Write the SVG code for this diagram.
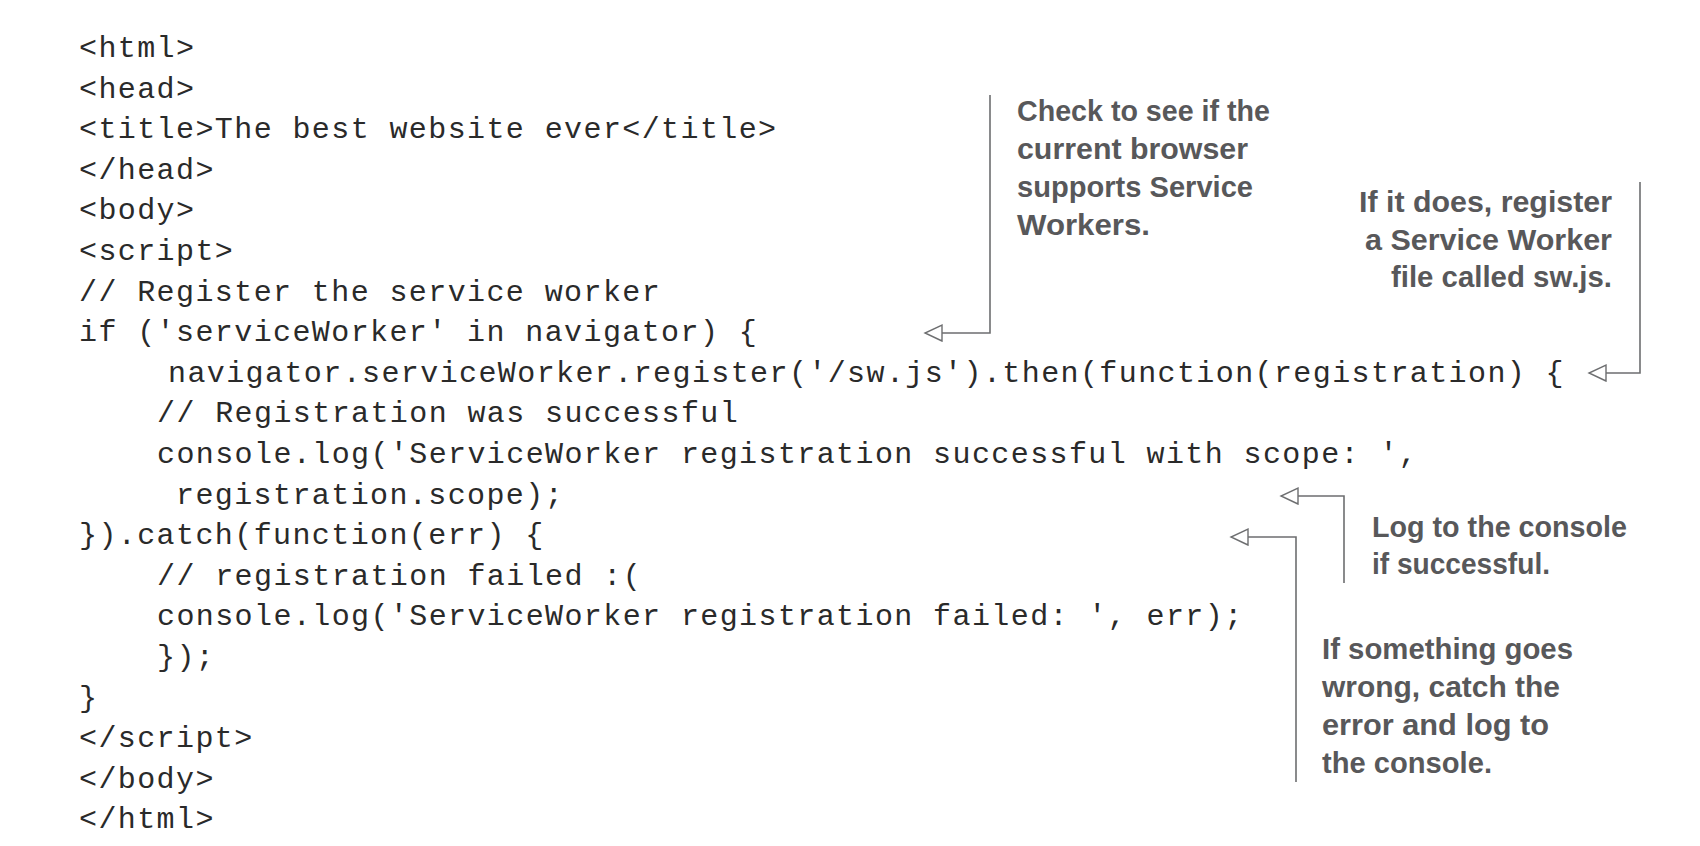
<svg xmlns="http://www.w3.org/2000/svg" width="1700" height="846" viewBox="0 0 1700 846">
<style>
.code{font-family:"Liberation Mono","DejaVu Sans Mono",monospace;font-size:30px;letter-spacing:1.4px;fill:#2a2a2a;}
.note{font-family:"Liberation Sans Narrow","Liberation Sans",Arial,sans-serif;font-weight:bold;font-size:29px;fill:#58585a;}
.conn{fill:none;stroke:#6d6e70;stroke-width:1.6;}
</style>
<defs>
<marker id="arr" markerUnits="userSpaceOnUse" markerWidth="20" markerHeight="20" viewBox="-1 -1 20 18" refX="17" refY="8" orient="auto">
<path d="M0,0 L17,8 L0,16 Z" fill="#ffffff" stroke="#6d6e70" stroke-width="1.4"/>
</marker>
</defs>
<rect x="0" y="0" width="1700" height="846" fill="#ffffff"/>
<g id="code">
<text class="code" x="79" y="57">&lt;html&gt;</text>
<text class="code" x="79" y="97.6">&lt;head&gt;</text>
<text class="code" x="79" y="138.2">&lt;title&gt;The best website ever&lt;/title&gt;</text>
<text class="code" x="79" y="178.8">&lt;/head&gt;</text>
<text class="code" x="79" y="219.4">&lt;body&gt;</text>
<text class="code" x="79" y="260">&lt;script&gt;</text>
<text class="code" x="79" y="300.6">// Register the service worker</text>
<text class="code" x="79" y="341.2">if ('serviceWorker' in navigator) {</text>
<text class="code" x="168" y="381.8">navigator.serviceWorker.register('/sw.js').then(function(registration) {</text>
<text class="code" x="157" y="422.4">// Registration was successful</text>
<text class="code" x="157" y="463">console.log('ServiceWorker registration successful with scope: ',</text>
<text class="code" x="176" y="503.6">registration.scope);</text>
<text class="code" x="79" y="544.2">}).catch(function(err) {</text>
<text class="code" x="157" y="584.8">// registration failed :(</text>
<text class="code" x="157" y="625.4">console.log('ServiceWorker registration failed: ', err);</text>
<text class="code" x="157" y="666">});</text>
<text class="code" x="79" y="706.6">}</text>
<text class="code" x="79" y="747.2">&lt;/script&gt;</text>
<text class="code" x="79" y="787.8">&lt;/body&gt;</text>
<text class="code" x="79" y="828.4">&lt;/html&gt;</text>
</g>
<g id="connectors">
<path class="conn" d="M990,95 V333 H925" marker-end="url(#arr)"/>
<path class="conn" d="M1640,182 V373 H1589" marker-end="url(#arr)"/>
<path class="conn" d="M1344,583 V496 H1281" marker-end="url(#arr)"/>
<path class="conn" d="M1296,782 V537 H1231" marker-end="url(#arr)"/>
</g>
<g id="note-check">
<text class="note" x="1017" y="121" textLength="253" lengthAdjust="spacingAndGlyphs">Check to see if the</text>
<text class="note" x="1017" y="159" textLength="231" lengthAdjust="spacingAndGlyphs">current browser</text>
<text class="note" x="1017" y="197" textLength="236" lengthAdjust="spacingAndGlyphs">supports Service</text>
<text class="note" x="1017" y="235" textLength="133" lengthAdjust="spacingAndGlyphs">Workers.</text>
</g>
<g id="note-register">
<text class="note" x="1359" y="212" textLength="253" lengthAdjust="spacingAndGlyphs">If it does, register</text>
<text class="note" x="1365" y="250" textLength="247" lengthAdjust="spacingAndGlyphs">a Service Worker</text>
<text class="note" x="1391" y="287" textLength="221" lengthAdjust="spacingAndGlyphs">file called sw.js.</text>
</g>
<g id="note-success">
<text class="note" x="1372" y="537" textLength="255" lengthAdjust="spacingAndGlyphs">Log to the console</text>
<text class="note" x="1372" y="574" textLength="178" lengthAdjust="spacingAndGlyphs">if successful.</text>
</g>
<g id="note-error">
<text class="note" x="1322" y="659" textLength="251" lengthAdjust="spacingAndGlyphs">If something goes</text>
<text class="note" x="1322" y="697" textLength="238" lengthAdjust="spacingAndGlyphs">wrong, catch the</text>
<text class="note" x="1322" y="735" textLength="227" lengthAdjust="spacingAndGlyphs">error and log to</text>
<text class="note" x="1322" y="773" textLength="170" lengthAdjust="spacingAndGlyphs">the console.</text>
</g>
</svg>
